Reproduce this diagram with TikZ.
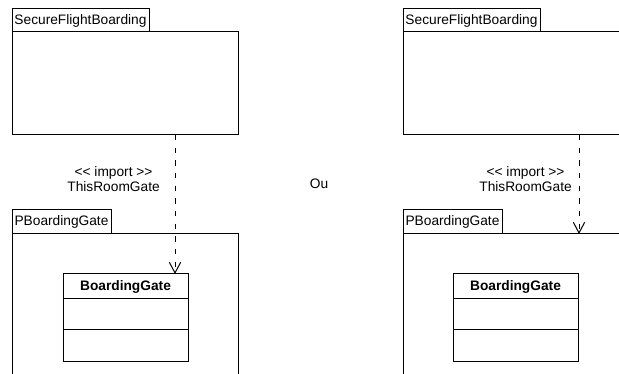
\documentclass[tikz,border=0pt]{standalone}
\usepackage{fontspec}
\setmainfont{Liberation Sans}
\usetikzlibrary{arrows.meta,positioning}
\tikzset{
  pkgtab/.style={draw, line width=0.75pt, outer sep=0pt, inner sep=0pt, minimum height=17.25pt, anchor=north west, font=\fontsize{10.3}{12}\selectfont},
  pkgbody/.style={draw, line width=0.75pt, outer sep=0pt, inner sep=0pt, minimum width=169.5pt, anchor=north west},
  clspart/.style={draw, line width=0.75pt, outer sep=0pt, inner sep=0pt, minimum width=93.75pt},
  import/.style={-{Straight Barb[length=8pt, width=8.5pt, line width=0.75pt]}, line width=0.75pt, dash pattern=on 4pt off 5.5pt},
  lbl/.style={align=center, inner sep=0pt, font=\fontsize{10.3}{11.5}\selectfont}
}
\begin{document}
\begin{tikzpicture}[x=0.75pt, y=-0.75pt, node distance=0pt]
  \useasboundingbox (0,0) rectangle (619,374);
  \clip (0,0) rectangle (619,374);
  % left variant
  \node[pkgtab, minimum width=102.75pt] (sfbTab) at (12,9) {SecureFlightBoarding};
  \node[pkgbody, minimum height=77.25pt] (sfbBody) at (sfbTab.south west) {};
  \node[pkgtab, minimum width=74.25pt, minimum height=18pt] (gateTab) at (12,210) {PBoardingGate};
  \node[pkgbody, minimum height=120pt] (gateBody) at (gateTab.south west) {};
  \node[clspart, anchor=north west, minimum height=18.75pt, font=\fontsize{10.3}{12}\selectfont\bfseries] (clsHead) at (63,274) {BoardingGate};
  \node[clspart, below=of clsHead, minimum height=23.25pt] (clsAttr) {};
  \node[clspart, below=of clsAttr, minimum height=24pt] (clsOps) {};
  \path (clsHead.north east) ++(-13,0) coordinate (impEnd);
  \draw[import] (sfbBody.south -| impEnd) -- (impEnd);
  \node[lbl, anchor=east] (impLbl) at (160,179) {<{}< import >{}>\\ThisRoomGate};
  % separator word
  \node[lbl] (ou) at (319,184) {Ou};
  % right variant
  \node[pkgtab, minimum width=102.75pt] (sfbTabR) at (403,9) {SecureFlightBoarding};
  \node[pkgbody, minimum height=77.25pt] (sfbBodyR) at (sfbTabR.south west) {};
  \node[pkgtab, minimum width=74.25pt, minimum height=18pt] (gateTabR) at (403,210) {PBoardingGate};
  \node[pkgbody, minimum height=120pt] (gateBodyR) at (gateTabR.south west) {};
  \node[clspart, anchor=north west, minimum height=18.75pt, font=\fontsize{10.3}{12}\selectfont\bfseries] (clsHeadR) at (453,274) {BoardingGate};
  \node[clspart, below=of clsHeadR, minimum height=23.25pt] (clsAttrR) {};
  \node[clspart, below=of clsAttrR, minimum height=24pt] (clsOpsR) {};
  \path (gateBodyR.north -| clsHeadR.north east) ++(1,0) coordinate (impEndR);
  \draw[import] (sfbBodyR.south -| impEndR) -- (impEndR);
  \node[lbl, anchor=east] (impLblR) at (572,179) {<{}< import >{}>\\ThisRoomGate};
\end{tikzpicture}
\end{document}
